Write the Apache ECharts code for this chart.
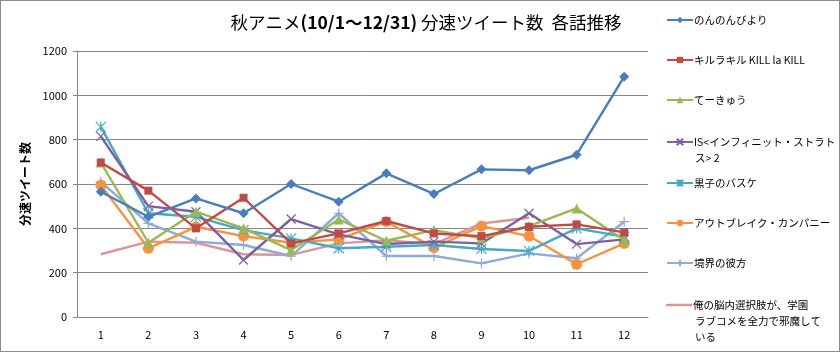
<!DOCTYPE html>
<html>
<head>
<meta charset="utf-8">
<script src="https://cdn.jsdelivr.net/npm/echarts@6/dist/echarts.min.js"></script>
<style>
html, body { margin: 0; padding: 0; background: #fff; }
#main { width: 838px; height: 350px; border: 1px solid #8c8c8c; }
</style>
</head>
<body>
<div id="main"></div>
<script>
const episodes = ["1", "2", "3", "4", "5", "6", "7", "8", "9", "10", "11", "12"]

const nonnon = [565, 452, 535, 468, 600, 520, 648, 555, 666, 662, 732, 1084]
const killLaKill = [697, 570, 400, 538, 332, 377, 433, 377, 365, 407, 418, 382]
const teekyuu = [697, 335, 475, 400, 302, 440, 344, 392, 355, 410, 490, 347]
const infiniteStratos = [815, 500, 475, 257, 442, 373, 329, 340, 332, 468, 329, 350]
const kuroko = [858, 468, 452, 392, 355, 310, 317, 325, 307, 298, 400, 362]
const outbreak = [595, 310, 407, 365, 335, 350, 430, 313, 410, 365, 238, 332]
const kyoukai = [610, 422, 340, 325, 275, 468, 275, 275, 242, 287, 265, 430]
const noucome = [283, 340, 335, 283, 280, 332, 347, 329, 422, 448, null, null]

const names = [
    "のんのんびより",
    "キルラキル KILL la KILL",
    "てーきゅう",
    "IS<インフィニット・ストラトス> 2",
    "黒子のバスケ",
    "アウトブレイク・カンパニー",
    "境界の彼方",
    "俺の脳内選択肢が、学園ラブコメを全力で邪魔している"
]
// 凡例の改行 (1行目は凡例、続きの行は下に書く)
const legendLines = {
    "IS<インフィニット・ストラトス> 2": ["IS<インフィニット・ストラト", "ス> 2"],
    "俺の脳内選択肢が、学園ラブコメを全力で邪魔している": ["俺の脳内選択肢が、学園", "ラブコメを全力で邪魔して", "いる"]
}
const values = [nonnon, killLaKill, teekyuu, infiniteStratos, kuroko, outbreak, kyoukai, noucome]
const colors = ["#4a7ebb", "#be4b48", "#98b954", "#7d60a0", "#46aac5", "#f69240", "#8eaad8", "#d99694"]
const symbols = [
    "diamond", "rect", "triangle",
    "path://M0,0L10,10M10,0L0,10",
    "path://M0,0L10,10M10,0L0,10M5,0L5,10",
    "circle",
    "path://M5,0L5,10M0,5L10,5",
    "none"
]
const symbolSizes = [10, 8, 10, 9, 10, 11, 10, 0]
// 凡例の1行目の中心
const legendCenters = [19, 59, 99, 141, 182, 222, 262, 304]

var myChart = echarts.init(document.getElementById('main'))

let series = []
let legends = []
let graphics = []
for (let i = 0; i < names.length; i++) {
    let stroke = symbols[i].indexOf("path://") == 0
    series.push({
        name: names[i],
        type: 'line',
        data: values[i],
        symbol: symbols[i],
        symbolSize: symbolSizes[i],
        showSymbol: symbols[i] != "none",
        connectNulls: false,
        lineStyle: { width: 2.4, color: colors[i] },
        itemStyle: {
            color: stroke ? 'rgba(0,0,0,0)' : colors[i],
            borderColor: colors[i],
            borderWidth: stroke ? 1.2 : 0
        },
        emphasis: { disabled: true },
        z: 10 - i
    })
    let noMark = symbols[i] == "none"
    legends.push({
        data: noMark ? [{ name: names[i], icon: 'rect' }] : [names[i]],
        left: 665,
        top: legendCenters[i] - 8,
        padding: 0,
        orient: 'vertical',
        itemWidth: 26,
        itemHeight: noMark ? 2.5 : 8,
        itemGap: 0,
        formatter: function (name) {
            return legendLines[name] ? legendLines[name][0] : name
        },
        textStyle: {
            fontFamily: 'Noto Sans CJK JP',
            fontSize: 10.5,
            color: '#000',
            lineHeight: 16,
            padding: [0, 0, 0, -4]
        }
    })
    let lines = legendLines[names[i]]
    if (lines) {
        for (let k = 1; k < lines.length; k++) {
            graphics.push({
                type: 'text',
                left: 694,
                top: legendCenters[i] + 16 * k - 8,
                style: {
                    text: lines[k],
                    fontFamily: 'Noto Sans CJK JP',
                    fontSize: 10.5,
                    lineHeight: 16,
                    fill: '#000'
                }
            })
        }
    }
}

let option = {
    animation: false,
    color: colors,
    textStyle: { fontFamily: 'Noto Sans CJK JP' },
    title: {
        text: '秋アニメ{b|(10/1～12/31)} 分速ツイート数  各話推移',
        left: 420,
        top: 8,
        textAlign: 'center',
        textStyle: {
            fontFamily: 'Noto Sans CJK JP',
            fontSize: 17.5,
            fontWeight: 'normal',
            color: '#000',
            rich: {
                b: { fontFamily: 'Noto Sans CJK JP', fontSize: 17.5, fontWeight: 'bold', color: '#000' }
            }
        }
    },
    legend: legends,
    graphic: graphics,
    grid: { left: 76, right: 191, top: 50, bottom: 34 },
    xAxis: {
        type: 'category',
        data: episodes,
        boundaryGap: true,
        axisLine: { lineStyle: { color: '#868686' } },
        axisTick: { show: false },
        axisLabel: { color: '#000', fontSize: 11, margin: 12 }
    },
    yAxis: {
        type: 'value',
        min: 0,
        max: 1200,
        interval: 200,
        name: '分速ツイート数',
        nameLocation: 'middle',
        nameGap: 45,
        nameTextStyle: { fontSize: 12, fontWeight: 'bold', color: '#000' },
        axisLine: { show: true, lineStyle: { color: '#868686' } },
        axisTick: { show: true, inside: false, length: 4, lineStyle: { color: '#868686' } },
        axisLabel: {
            color: '#000', fontSize: 11, margin: 10,
            formatter: function (v) { return String(v) }
        },
        splitLine: { lineStyle: { color: '#868686' } }
    },
    series: series
}
myChart.setOption(option)
</script>
</body>
</html>
